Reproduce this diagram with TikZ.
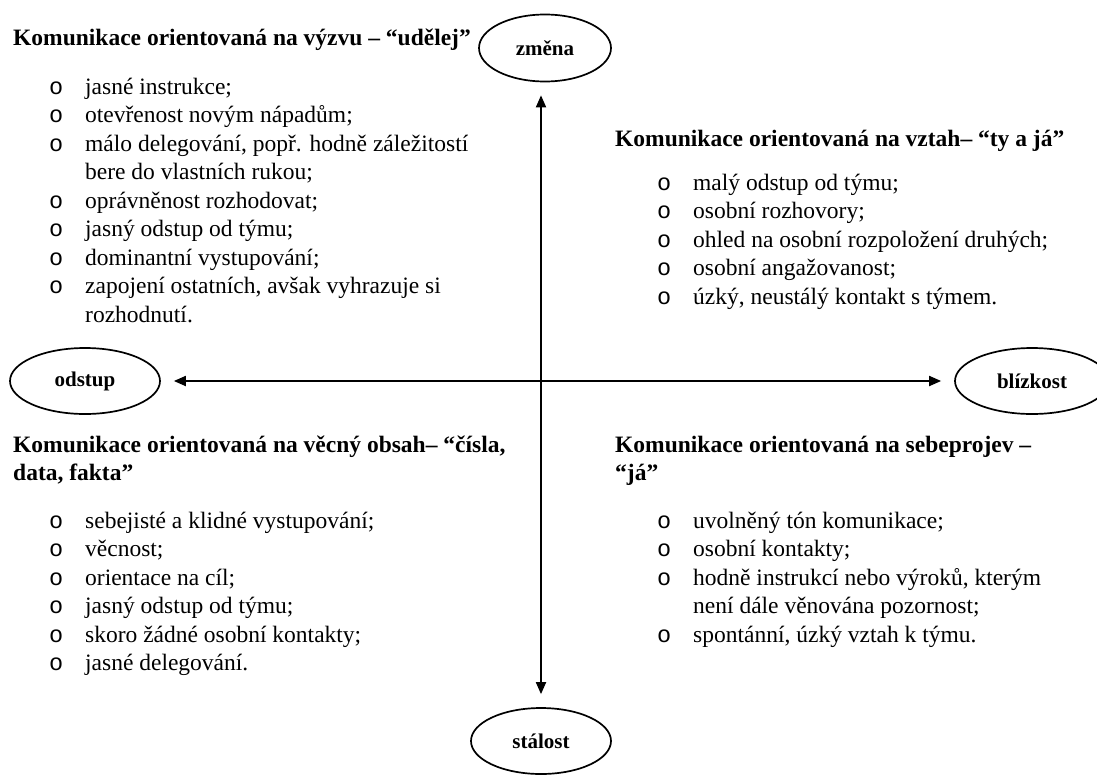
\documentclass[tikz,border=0pt]{standalone}
\usepackage{fontspec}
\setmainfont{Liberation Serif}
\setmonofont{Liberation Mono}
\usetikzlibrary{arrows.meta,shapes.geometric,positioning}

\tikzset{
  pole/.style={ellipse, draw, line width=1.7pt, minimum width=140pt, minimum height=66pt, inner sep=0pt, font=\fontsize{21}{24}\selectfont\bfseries},
  axis/.style={line width=1.8pt, {Triangle[length=12pt,width=10pt]}-{Triangle[length=12pt,width=10pt]}, shorten <=13pt, shorten >=13pt},
  head/.style={anchor=base west, inner sep=0pt, font=\fontsize{23.5}{28.5}\selectfont\bfseries},
  items/.style={anchor=base west, inner sep=0pt, font=\fontsize{23.5}{28.5}\selectfont},
}
\newcommand{\bul}{\texttt{o}}

\begin{document}
\begin{tikzpicture}[x=1pt, y=-1pt]
\useasboundingbox (0,0) rectangle (1097,774);
% poles
\node[pole, minimum width=132pt, minimum height=67pt] (zmena) at (545,48) {změna};
\node[pole] (stalost) at (541,741) {stálost};
\node[pole, minimum width=150pt] (odstup) at (85,381) {odstup};
\node[pole, minimum width=154pt] (blizkost) at (1032,381) {blízkost};
\draw[axis] (odstup) -- (blizkost);
\draw[axis] (zmena.south -| stalost.north) -- (stalost.north);

% vyzva
\node[head] (vyzvaHead) at (13,45) {Komunikace orientovaná na výzvu – “udělej”};
\node[items] (vyzvaList) at (49,94) {\begin{tabular}[t]{@{}p{36pt}@{}l@{}}
\bul & jasné instrukce;\\
\bul & otevřenost novým nápadům;\\
\bul & málo delegování, popř. hodně záležitostí\\
     & bere do vlastních rukou;\\
\bul & oprávněnost rozhodovat;\\
\bul & jasný odstup od týmu;\\
\bul & dominantní vystupování;\\
\bul & zapojení ostatních, avšak vyhrazuje si\\
     & rozhodnutí.
\end{tabular}};

% vztah
\node[head] (vztahHead) at (615,146) {Komunikace orientovaná na vztah– “ty a já”};
\node[items] (vztahList) at (657,190) {\begin{tabular}[t]{@{}p{36pt}@{}l@{}}
\bul & malý odstup od týmu;\\
\bul & osobní rozhovory;\\
\bul & ohled na osobní rozpoložení druhých;\\
\bul & osobní angažovanost;\\
\bul & úzký, neustálý kontakt s týmem.
\end{tabular}};

% vecny obsah
\node[head] (obsahHead) at (13,452) {\begin{tabular}[t]{@{}l@{}}
Komunikace orientovaná na věcný obsah– “čísla,\\
data, fakta”
\end{tabular}};
\node[items] (obsahList) at (49,528) {\begin{tabular}[t]{@{}p{36pt}@{}l@{}}
\bul & sebejisté a klidné vystupování;\\
\bul & věcnost;\\
\bul & orientace na cíl;\\
\bul & jasný odstup od týmu;\\
\bul & skoro žádné osobní kontakty;\\
\bul & jasné delegování.
\end{tabular}};

% sebeprojev
\node[head] (sebeHead) at (615,452) {\begin{tabular}[t]{@{}l@{}}
Komunikace orientovaná na sebeprojev –\\
“já”
\end{tabular}};
\node[items] (sebeList) at (657,528) {\begin{tabular}[t]{@{}p{36pt}@{}l@{}}
\bul & uvolněný tón komunikace;\\
\bul & osobní kontakty;\\
\bul & hodně instrukcí nebo výroků, kterým\\
     & není dále věnována pozornost;\\
\bul & spontánní, úzký vztah k týmu.
\end{tabular}};
\end{tikzpicture}
\end{document}
